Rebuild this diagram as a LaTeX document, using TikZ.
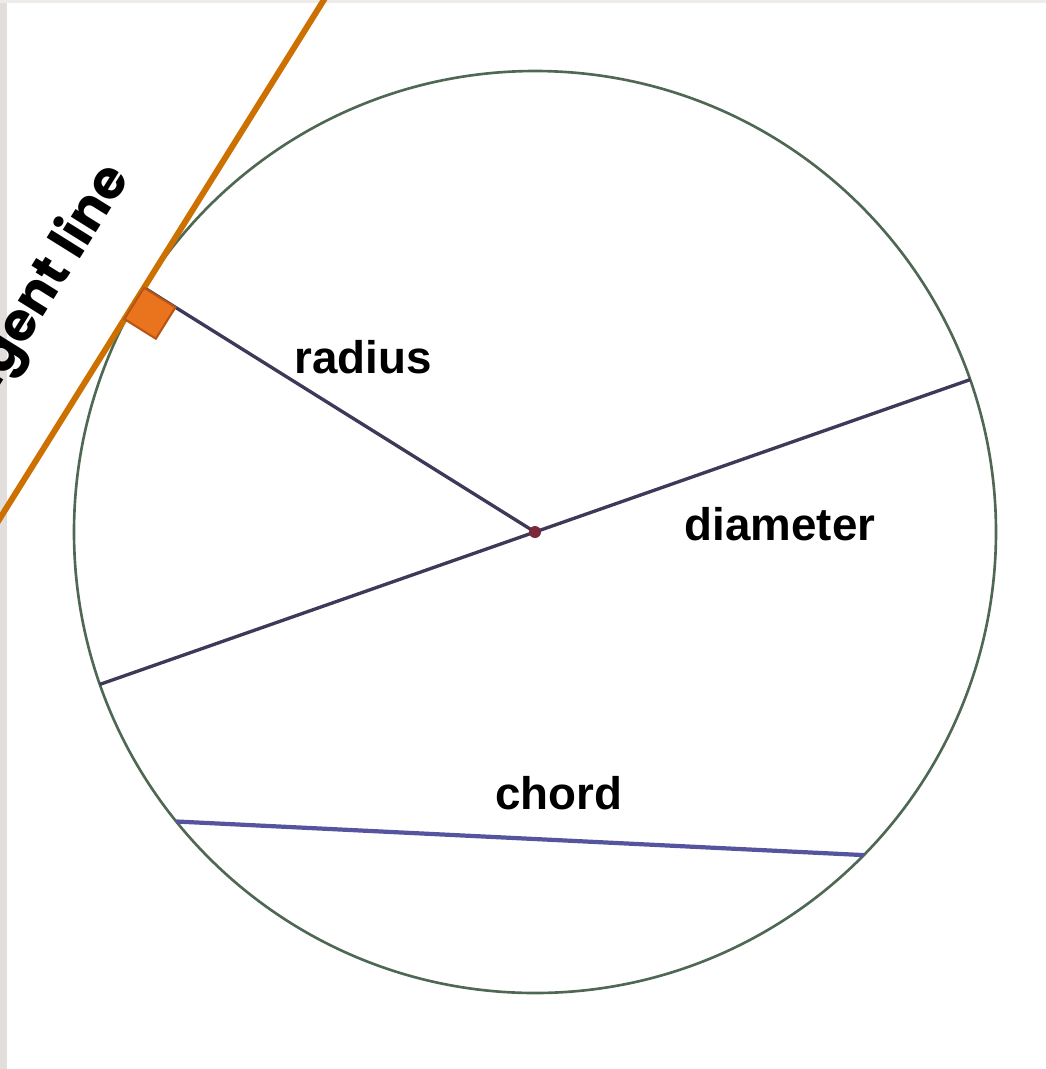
\documentclass[tikz,border=0pt]{standalone}
\usepackage{fontspec}
\setmainfont{Liberation Sans}
\newfontfamily\tanfont{Poppins}
\usetikzlibrary{calc}

\definecolor{rimgreen}{RGB}{78,104,84}
\definecolor{segline}{RGB}{60,58,88}
\definecolor{chordblue}{RGB}{86,84,158}
\definecolor{tanorange}{RGB}{204,112,0}
\definecolor{sqorange}{RGB}{234,116,30}
\definecolor{sqedge}{RGB}{185,85,20}
\definecolor{dotred}{RGB}{122,40,58}
\definecolor{edgegray}{RGB}{226,222,219}

\begin{document}
\begin{tikzpicture}[x=0.01cm, y=-0.01cm,
    seg/.style={segline, line width=0.95pt},
    lbl/.style={font=\fontsize{13}{15}\selectfont\bfseries, inner sep=0pt}]
    \useasboundingbox (0,0) rectangle (1046,1069);
    % rand
    \fill[edgegray] (0,0) rectangle (7,1069);
    \fill[edgegray!60] (0,0) rectangle (1046,3);

    % punkte
    \coordinate (O) at (535,532);
    \coordinate (T) at ($(O)+(212:461)$);
    \coordinate (d1) at ($(O)+(340.7:461)$);
    \coordinate (d2) at ($(O)+(160.7:461)$);
    \coordinate (c1) at ($(O)+(141.1:461)$);
    \coordinate (c2) at ($(O)+(44.5:461)$);
    \coordinate (ta) at ($(T)+(302:420)$);
    \coordinate (tb) at ($(T)+(122:420)$);

    % kreis und strecken
    \draw[rimgreen, line width=0.75pt] (O) circle (461);
    \draw[seg] (O) -- (T);
    \draw[seg] (d2) -- (d1);
    \draw[chordblue, line width=1.2pt] (c1) -- (c2);

    % tangente
    \begin{scope}
        \clip (0,0) rectangle (1046,1069);
        \draw[tanorange, line width=1.7pt] (tb) -- (ta);
    \end{scope}
    \draw[sqedge, fill=sqorange, line width=0.6pt]
        (T) -- ($(T)+(122:37)$) -- ($(T)+(122:37)+(32:37)$) -- ($(T)+(32:37)$) -- cycle;
    \fill[dotred] (O) circle (6);

    % beschriftung
    \node[lbl] (rad) at (363,357) {radius};
    \node[lbl] (dia) at (780,524) {diameter};
    \node[lbl] (cho) at (559,793) {chord};
    \node[font=\tanfont\fontsize{15}{17}\selectfont\bfseries, inner sep=0pt,
          rotate=58, anchor=base east] (tan) at (131,177) {tangent line};
\end{tikzpicture}
\end{document}
